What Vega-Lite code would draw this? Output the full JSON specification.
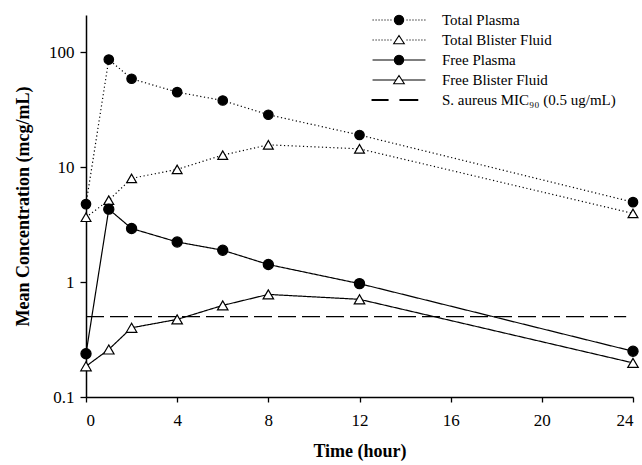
{
  "$schema": "https://vega.github.io/schema/vega-lite/v6.json",
  "autosize": "none",
  "width": 547,
  "height": 382,
  "padding": {"left": 86, "top": 15, "right": 9, "bottom": 68},
  "background": "white",
  "config": {
    "view": {"stroke": null},
    "font": "Liberation Serif",
    "axis": {
      "grid": false,
      "domainColor": "black",
      "domainWidth": 1.5,
      "tickColor": "black",
      "tickWidth": 1.3,
      "labelColor": "black",
      "labelFont": "Liberation Serif",
      "labelFontSize": 17,
      "titleFont": "Liberation Serif",
      "titleFontSize": 18,
      "titleFontWeight": "bold",
      "titleColor": "black"
    },
    "legend": {
      "labelFont": "Liberation Serif",
      "labelFontSize": 15,
      "labelColor": "black",
      "labelLimit": 400
    }
  },
  "datasets": {
    "conc": [
      {"series": "Total Plasma", "time": 0, "conc": 4.76},
      {"series": "Total Plasma", "time": 1, "conc": 86},
      {"series": "Total Plasma", "time": 2, "conc": 58.6},
      {"series": "Total Plasma", "time": 4, "conc": 44.8},
      {"series": "Total Plasma", "time": 6, "conc": 37.9},
      {"series": "Total Plasma", "time": 8, "conc": 28.5},
      {"series": "Total Plasma", "time": 12, "conc": 19.0},
      {"series": "Total Plasma", "time": 24, "conc": 4.95},
      {"series": "Total Blister Fluid", "time": 0, "conc": 3.66},
      {"series": "Total Blister Fluid", "time": 1, "conc": 5.15},
      {"series": "Total Blister Fluid", "time": 2, "conc": 7.97},
      {"series": "Total Blister Fluid", "time": 4, "conc": 9.55},
      {"series": "Total Blister Fluid", "time": 6, "conc": 12.7},
      {"series": "Total Blister Fluid", "time": 8, "conc": 15.6},
      {"series": "Total Blister Fluid", "time": 12, "conc": 14.4},
      {"series": "Total Blister Fluid", "time": 24, "conc": 3.95},
      {"series": "Free Plasma", "time": 0, "conc": 0.238},
      {"series": "Free Plasma", "time": 1, "conc": 4.3},
      {"series": "Free Plasma", "time": 2, "conc": 2.92},
      {"series": "Free Plasma", "time": 4, "conc": 2.23},
      {"series": "Free Plasma", "time": 6, "conc": 1.89},
      {"series": "Free Plasma", "time": 8, "conc": 1.42},
      {"series": "Free Plasma", "time": 12, "conc": 0.968},
      {"series": "Free Plasma", "time": 24, "conc": 0.25},
      {"series": "Free Blister Fluid", "time": 0, "conc": 0.185},
      {"series": "Free Blister Fluid", "time": 1, "conc": 0.259},
      {"series": "Free Blister Fluid", "time": 2, "conc": 0.40},
      {"series": "Free Blister Fluid", "time": 4, "conc": 0.473},
      {"series": "Free Blister Fluid", "time": 6, "conc": 0.626},
      {"series": "Free Blister Fluid", "time": 8, "conc": 0.78},
      {"series": "Free Blister Fluid", "time": 12, "conc": 0.707},
      {"series": "Free Blister Fluid", "time": 24, "conc": 0.198}
    ],
    "mic": [
      {"start": 0, "end": 23.7, "mic": 0.5}
    ],
    "legendEntries": [
      {"label": "Total Plasma", "time": 0, "conc": 1},
      {"label": "Total Blister Fluid", "time": 0, "conc": 1},
      {"label": "Free Plasma", "time": 0, "conc": 1},
      {"label": "Free Blister Fluid", "time": 0, "conc": 1},
      {"label": "S. aureus MIC₉₀ (0.5 ug/mL)", "time": 0, "conc": 1}
    ]
  },
  "layer": [
    {
      "data": {"name": "conc"},
      "mark": {"type": "line", "color": "black", "strokeWidth": 1.2},
      "encoding": {
        "x": {
          "field": "time", "type": "quantitative",
          "scale": {"domain": [0, 24], "nice": false},
          "axis": {"values": [0, 4, 8, 12, 16, 20, 24], "tickSize": 5, "labelPadding": 10, "title": "Time (hour)", "titlePadding": 14}
        },
        "y": {
          "field": "conc", "type": "quantitative",
          "scale": {"type": "log", "domain": [0.1, 210], "nice": false},
          "axis": {"values": [0.1, 1, 10, 100], "format": "~g", "tickSize": 6, "labelPadding": 6, "title": "Mean Concentration (mcg/mL)", "titlePadding": 16}
        },
        "detail": {"field": "series"},
        "strokeDash": {
          "field": "series", "type": "nominal",
          "scale": {"domain": ["Total Plasma", "Total Blister Fluid", "Free Plasma", "Free Blister Fluid"], "range": [[1.2, 2.6], [1.2, 2.6], [1, 0], [1, 0]]},
          "legend": null
        }
      }
    },
    {
      "data": {"name": "mic"},
      "mark": {"type": "rule", "color": "black", "strokeWidth": 1.3, "strokeDash": [18, 6]},
      "encoding": {
        "x": {"field": "start", "type": "quantitative"},
        "x2": {"field": "end"},
        "y": {"field": "mic", "type": "quantitative"}
      }
    },
    {
      "data": {"name": "conc"},
      "mark": {"type": "point", "stroke": "black", "strokeWidth": 1.2, "opacity": 1, "fillOpacity": 1},
      "encoding": {
        "x": {"field": "time", "type": "quantitative"},
        "y": {"field": "conc", "type": "quantitative"},
        "shape": {
          "field": "series", "type": "nominal",
          "scale": {"domain": ["Total Plasma", "Total Blister Fluid", "Free Plasma", "Free Blister Fluid"], "range": ["circle", "triangle-up", "circle", "triangle-up"]},
          "legend": null
        },
        "fill": {
          "field": "series", "type": "nominal",
          "scale": {"domain": ["Total Plasma", "Total Blister Fluid", "Free Plasma", "Free Blister Fluid"], "range": ["black", "white", "black", "white"]},
          "legend": null
        },
        "size": {
          "field": "series", "type": "nominal",
          "scale": {"domain": ["Total Plasma", "Total Blister Fluid", "Free Plasma", "Free Blister Fluid"], "range": [90, 110, 90, 110]},
          "legend": null
        }
      }
    },
    {
      "data": {"name": "legendEntries"},
      "mark": {"type": "point", "strokeWidth": 1.1, "opacity": 0, "size": 324},
      "encoding": {
        "x": {"field": "time", "type": "quantitative"},
        "y": {"field": "conc", "type": "quantitative"},
        "shape": {
          "field": "label", "type": "nominal",
          "scale": {
            "domain": ["Total Plasma", "Total Blister Fluid", "Free Plasma", "Free Blister Fluid", "S. aureus MIC₉₀ (0.5 ug/mL)"],
            "range": [
              "M-2.94,0h0.13M-2.61,0h0.13M-2.28,0h0.13M-1.95,0h0.13M-1.62,0h0.13M-1.29,0h0.13M-0.96,0h0.13M0.83,0h0.13M1.16,0h0.13M1.49,0h0.13M1.82,0h0.13M2.15,0h0.13M2.48,0h0.13M2.81,0h0.13M0.52,0A0.52,0.52,0,1,1,-0.52,0A0.52,0.52,0,1,1,0.52,0Z",
              "M-2.94,0h0.13M-2.61,0h0.13M-2.28,0h0.13M-1.95,0h0.13M-1.62,0h0.13M-1.29,0h0.13M-0.96,0h0.13M0.83,0h0.13M1.16,0h0.13M1.49,0h0.13M1.82,0h0.13M2.15,0h0.13M2.48,0h0.13M2.81,0h0.13M0,-0.5L0.59,0.42L-0.59,0.42Z",
              "M-2.94,0H-0.52M0.52,0H2.94M0.52,0A0.52,0.52,0,1,1,-0.52,0A0.52,0.52,0,1,1,0.52,0Z",
              "M-2.94,0H-0.3M0.3,0H2.94M0,-0.5L0.59,0.42L-0.59,0.42Z",
              "M-2.99,-0.06H-1.22V0.06H-2.99ZM0.11,-0.06H2.08V0.06H0.11Z"
            ]
          },
          "legend": {"title": null, "orient": "none", "legendX": 303, "legendY": -5, "padding": 0, "symbolSize": 324, "rowPadding": 2, "labelOffset": 33, "symbolOpacity": 1, "symbolStrokeWidth": 1.1}
        },
        "fill": {
          "field": "label", "type": "nominal",
          "scale": {
            "domain": ["Total Plasma", "Total Blister Fluid", "Free Plasma", "Free Blister Fluid", "S. aureus MIC₉₀ (0.5 ug/mL)"],
            "range": ["black", "white", "black", "white", "black"]
          },
          "legend": {"title": null, "orient": "none", "legendX": 303, "legendY": -5, "padding": 0, "symbolSize": 324, "rowPadding": 2, "labelOffset": 33, "symbolOpacity": 1, "symbolStrokeWidth": 1.1}
        },
        "stroke": {
          "field": "label", "type": "nominal",
          "scale": {
            "domain": ["Total Plasma", "Total Blister Fluid", "Free Plasma", "Free Blister Fluid", "S. aureus MIC₉₀ (0.5 ug/mL)"],
            "range": ["black", "black", "black", "black", "black"]
          },
          "legend": {"title": null, "orient": "none", "legendX": 303, "legendY": -5, "padding": 0, "symbolSize": 324, "rowPadding": 2, "labelOffset": 33, "symbolOpacity": 1, "symbolStrokeWidth": 1.1}
        }
      }
    }
  ],
  "resolve": {"scale": {"shape": "independent", "fill": "independent", "stroke": "independent"}}
}
